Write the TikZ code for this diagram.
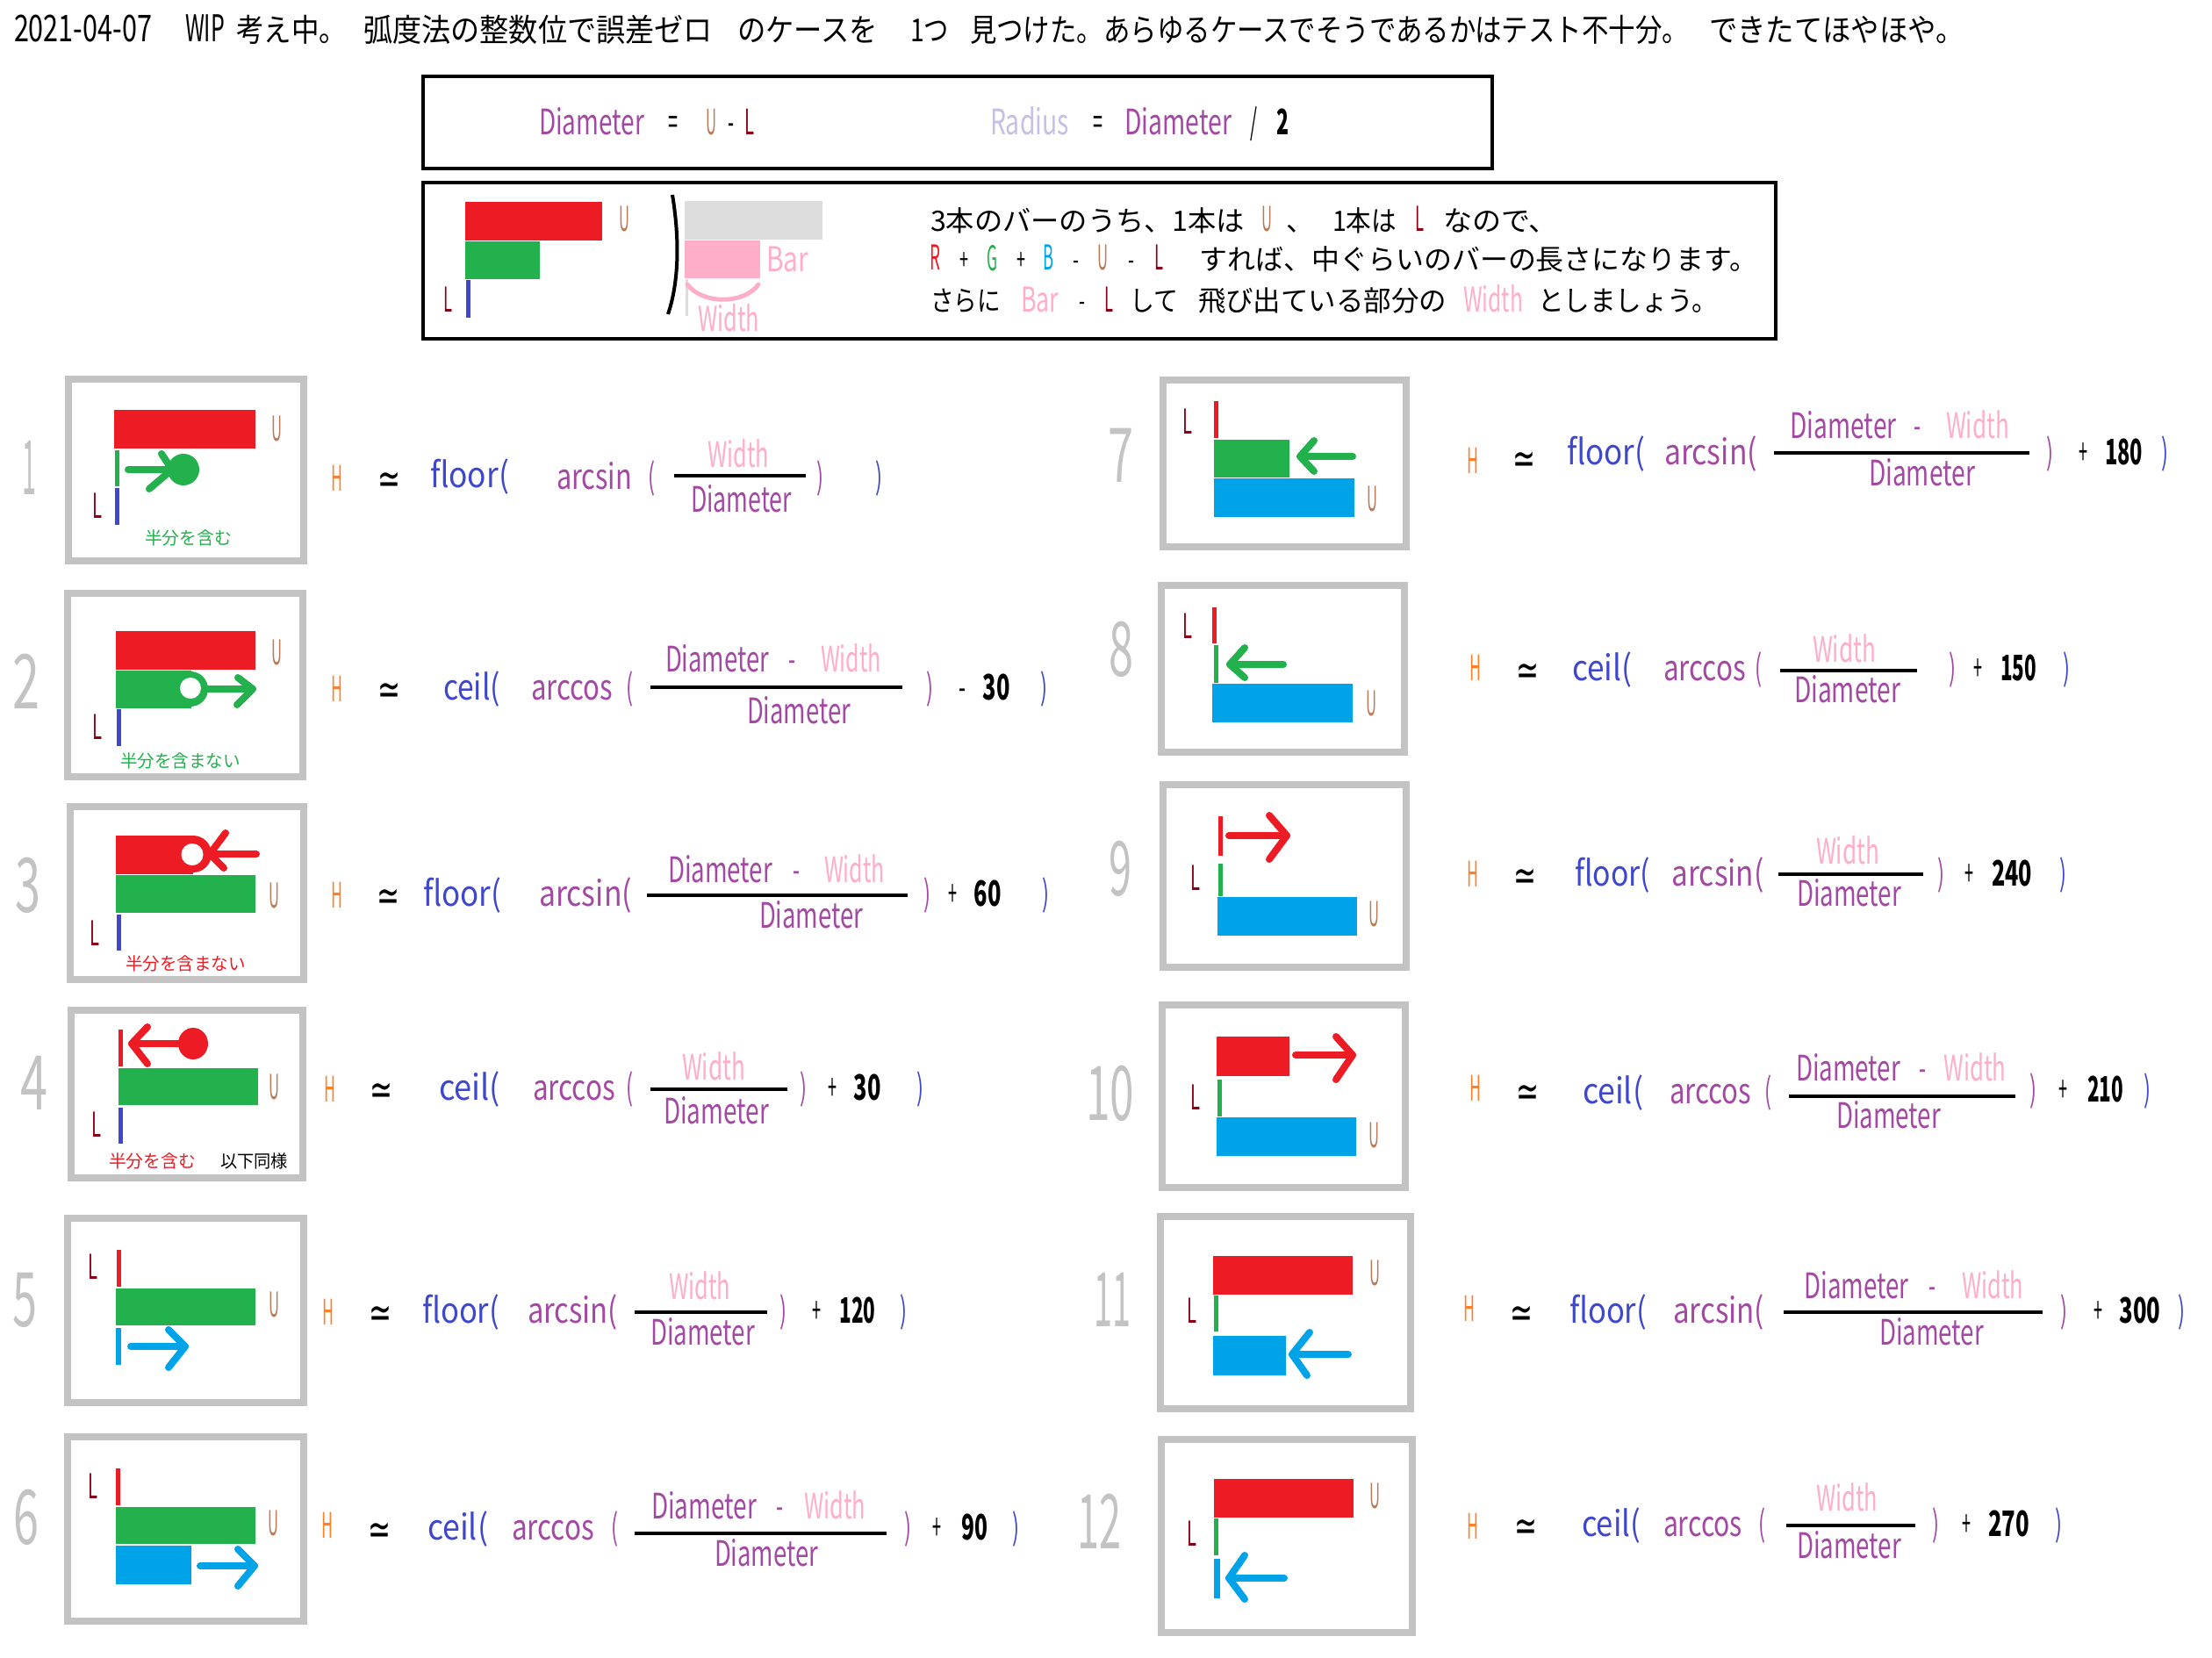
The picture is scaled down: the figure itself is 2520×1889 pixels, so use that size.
\documentclass[tikz,border=0pt]{standalone}
\usepackage{fontspec}
\usepackage{graphicx}
\setmainfont{Noto Sans CJK JP}
\newfontfamily\dvfont{DejaVu Sans}
\definecolor{pRed}{HTML}{ED1C24}
\definecolor{pGreen}{HTML}{22B14C}
\definecolor{pBlue}{HTML}{3F48CC}
\definecolor{pCyan}{HTML}{00A2E8}
\definecolor{pGrey}{HTML}{C3C3C3}
\definecolor{pLight}{HTML}{DCDCDC}
\definecolor{pBrown}{HTML}{B97A57}
\definecolor{pDark}{HTML}{880015}
\definecolor{pOrange}{HTML}{FF7F27}
\definecolor{pPink}{HTML}{FFAEC9}
\definecolor{pPurple}{HTML}{A349A4}
\definecolor{pLav}{HTML}{C8BFE7}
\newcommand\wtx[6][fm]{\node[#1,text=#4] (#2) at (#3) {\resizebox{#5pt}{\height}{#6}};}
\newcommand\simn[2]{\node[inner sep=0pt,font=\fontsize{34}{34}\selectfont,text height=25pt,text depth=0pt,text=black] (#1) at (#2) {\raisebox{-5pt}{\resizebox{26pt}{1.45\height}{\dvfont ≃}}};}
\begin{document}
\begin{tikzpicture}[x=1pt,y=-1pt,
  fm/.style={inner sep=0pt,font=\fontsize{40}{40}\selectfont,text height=25pt,text depth=0pt},
  tb/.style={inner sep=0pt,font=\fontsize{32}{32}\selectfont,text height=23pt,text depth=0pt},
  tl/.style={inner sep=0pt,font=\fontsize{39}{39}\selectfont,text height=24pt,text depth=0pt},
  tt/.style={inner sep=0pt,font=\fontsize{36}{36}\selectfont,text height=26pt,text depth=0pt},
  ttl/.style={inner sep=0pt,font=\fontsize{42}{42}\selectfont,text height=26pt,text depth=0pt},
  ts/.style={inner sep=0pt,font=\fontsize{20}{20}\selectfont,text height=14.4pt,text depth=0pt},
  tn/.style={inner sep=0pt,font=\fontsize{86}{86}\selectfont,text height=54pt,text depth=0pt},
  frame/.style={draw=pGrey,line width=8pt},
  bbox/.style={draw=black,line width=4pt},
  vline/.style={line width=5pt},
  arr/.style={line width=8pt,line cap=round,line join=round},
  fbar/.style={line width=4pt}]
\fill[white] (0,0) rectangle (2520,1889);
\useasboundingbox (0,0) rectangle (2520,1889);

% ---------- top line ----------
\wtx[ttl]{t1}{94.5,35}{black}{157}{2021-04-07}
\wtx[ttl]{t2}{233.5,35}{black}{45}{WIP}
\wtx[tt]{t3}{332,35}{black}{126}{考え中。}
\wtx[tt]{t4}{613,35}{black}{398}{弧度法の整数位で誤差ゼロ}
\wtx[tt]{t5}{920,35}{black}{160}{のケースを}
\wtx[tt]{t6}{1059,35}{black}{44}{1つ}
\wtx[tt]{t7}{1514.5,35}{black}{819}{見つけた。あらゆるケースでそうであるかはテスト不十分。}
\wtx[tt]{t8}{2092.5,35}{black}{291}{できたてほやほや。}

% ---------- box A ----------
\draw[bbox] (482,87) rectangle (1700,192);
\wtx{a1}{674,141}{pPurple}{120}{Diameter}
\wtx{a2}{767,141}{black}{11}{=}
\wtx{a3}{810,141}{pBrown}{12}{U}
\wtx{a4}{833,141}{black}{7}{-}
\wtx{a5}{854,141}{pDark}{11}{L}
\wtx{a6}{1173,141}{pLav}{90}{Radius}
\wtx{a7}{1251,141}{black}{11}{=}
\wtx{a8}{1342,141}{pPurple}{122}{Diameter}
\wtx{a9}{1428,141}{black}{8}{/}
\wtx{a10}{1461,141}{black}{14}{\bfseries 2}

% ---------- box B ----------
\draw[bbox] (482,208) rectangle (2023,386);
\fill[pRed] (530,230) rectangle (686,274);
\fill[pGreen] (530,275) rectangle (615,318);
\draw[pBlue,vline] (533,319) -- (533,362);
\wtx[tl]{bU}{711,252}{pBrown}{12}{U}
\wtx[tl]{bL}{510,343}{pDark}{10}{L}
\draw[line width=4pt] (766,222) .. controls (774,270) and (774,320) .. (761,358);
\fill[pLight] (780,229) rectangle (937,273);
\fill[pPink] (780,274) rectangle (866,317);
\draw[pLight,line width=3pt] (782,318) -- (782,360);
\draw[pPink,line width=5pt,line cap=round] (783,324) .. controls (800,347) and (848,347) .. (864,324);
\wtx[tl]{bBar}{897,297}{pPink}{48}{Bar}
\wtx[tl]{bWid}{830,365}{pPink}{70}{Width}
% line 1
\wtx[tb]{b11}{1239,252}{black}{358}{3本のバーのうち、1本は}
\wtx[tl]{b12}{1443,252}{pBrown}{12}{U}
\node[tb] (b13) at (1481,252) {、};
\wtx[tb]{b14}{1554.5,252}{black}{73}{1本は}
\wtx[tl]{b15}{1617,252}{pDark}{10}{L}
\wtx[tb]{b16}{1709.5,252}{black}{131}{なので、}
% line 2
\wtx[tl]{b21}{1065,296}{pRed}{12}{R}
\wtx[tb]{b22}{1098,296}{black}{10}{+}
\wtx[tl]{b23}{1130,296}{pGreen}{12}{G}
\wtx[tb]{b24}{1163,296}{black}{10}{+}
\wtx[tl]{b25}{1194,296}{pCyan}{12}{B}
\wtx[tb]{b26}{1226,296}{black}{7}{-}
\wtx[tl]{b27}{1256,296}{pBrown}{12}{U}
\wtx[tb]{b28}{1289,296}{black}{7}{-}
\wtx[tl]{b29}{1320,296}{pDark}{10}{L}
\wtx[tb]{b2a}{1684.5,296}{black}{635}{すれば、中ぐらいのバーの長さになります。}
% line 3
\wtx[tb]{b31}{1100,343}{black}{80}{さらに}
\wtx[tl]{b32}{1184.5,343}{pPink}{43}{Bar}
\wtx[tb]{b33}{1233,343}{black}{7}{-}
\wtx[tl]{b34}{1263,343}{pDark}{10}{L}
\wtx[tb]{b35}{1314.5,343}{black}{55}{して}
\wtx[tb]{b36}{1506.5,343}{black}{283}{飛び出ている部分の}
\wtx[tl]{b37}{1701,343}{pPink}{68}{Width}
\wtx[tb]{b38}{1854.5,343}{black}{205}{としましょう。}

% ---------- big grey numbers ----------
\wtx[tn]{n1}{33,536}{pGrey}{16}{1}
\wtx[tn]{n2}{30,780}{pGrey}{31}{2}
\wtx[tn]{n3}{32,1012}{pGrey}{29}{3}
\wtx[tn]{n4}{39,1237}{pGrey}{31}{4}
\wtx[tn]{n5}{28,1484}{pGrey}{28}{5}
\wtx[tn]{n6}{30,1732}{pGrey}{29}{6}
\wtx[tn]{n7}{1277,522}{pGrey}{29}{7}
\wtx[tn]{n8}{1277,743}{pGrey}{28}{8}
\wtx[tn]{n9}{1276,993}{pGrey}{26}{9}
\wtx[tn]{n10}{1264.5,1249}{pGrey}{55}{10}
\wtx[tn]{n11}{1267,1484}{pGrey}{42}{11}
\wtx[tn]{n12}{1252,1737}{pGrey}{50}{12}

% ---------- panel frames ----------
\draw[frame] (78,432) rectangle (346,639);
\draw[frame] (77,676) rectangle (345,885);
\draw[frame] (80,919) rectangle (346,1116);
\draw[frame] (81,1151) rectangle (345,1342);
\draw[frame] (77,1388) rectangle (346,1598);
\draw[frame] (77,1637) rectangle (346,1847);
\draw[frame] (1325,433) rectangle (1602,623);
\draw[frame] (1323,667) rectangle (1600,857);
\draw[frame] (1325,894) rectangle (1602,1102);
\draw[frame] (1324,1145) rectangle (1601,1353);
\draw[frame] (1322,1386) rectangle (1607,1605);
\draw[frame] (1323,1640) rectangle (1609,1860);

% ---------- panel 1 ----------
\fill[pRed] (130,467) rectangle (291,511);
\draw[pGreen,vline] (133,513) -- (133,554);
\draw[pBlue,vline] (133,556) -- (133,598);
\draw[pGreen,arr] (146,535) -- (200,535);
\draw[pGreen,arr] (184,517) -- (196,535) -- (170,557);
\fill[pGreen] (209,535) circle[radius=18pt];
\wtx[tl]{p1U}{315,490}{pBrown}{12}{U}
\wtx[tl]{p1L}{111,578}{pDark}{11}{L}
\wtx[ts]{p1t}{214.5,613}{pGreen}{99}{半分を含む}

% ---------- panel 2 ----------
\fill[pRed] (132,719) rectangle (291,763);
\fill[pGreen] (132,764) rectangle (218,807);
\fill[pGreen] (217,785) circle[radius=20pt];
\fill[white] (217,784) circle[radius=12pt];
\draw[pGreen,arr] (236,785) -- (288,785);
\draw[pGreen,arr] (271,772) -- (288,785) -- (270,803);
\draw[pBlue,vline] (135,808) -- (135,850);
\wtx[tl]{p2U}{315,745}{pBrown}{12}{U}
\wtx[tl]{p2L}{111,830}{pDark}{11}{L}
\wtx[ts]{p2t}{205.5,867}{pGreen}{137}{半分を含まない}

% ---------- panel 3 ----------
\fill[pRed] (132,952) rectangle (220,996);
\fill[pRed] (220,973) circle[radius=21pt];
\fill[white] (219,973.5) circle[radius=12.5pt];
\draw[pRed,arr] (257,949) -- (239,973) -- (255,989);
\draw[pRed,arr] (239,973) -- (292,973);
\fill[pGreen] (132,997) rectangle (291,1040);
\draw[pBlue,vline] (135,1042) -- (135,1083);
\wtx[tl]{p3U}{312,1022}{pBrown}{12}{U}
\wtx[tl]{p3L}{108,1065}{pDark}{11}{L}
\wtx[ts]{p3t}{211.5,1098}{pRed}{137}{半分を含まない}

% ---------- panel 4 ----------
\draw[pRed,vline] (137,1173) -- (137,1215);
\draw[pRed,arr] (168,1170) -- (150,1189) -- (168,1212);
\draw[pRed,arr] (150,1189) -- (210,1189);
\fill[pRed] (220,1189) ellipse[x radius=17pt,y radius=18pt];
\fill[pGreen] (135,1217) rectangle (294,1259);
\draw[pBlue,vline] (137,1262) -- (137,1303);
\wtx[tl]{p4U}{312,1240}{pBrown}{12}{U}
\wtx[tl]{p4L}{110,1283}{pDark}{11}{L}
\wtx[ts]{p4t}{173.5,1323}{pRed}{99}{半分を含む}
\wtx[ts]{p4s}{289.5,1323}{black}{77}{以下同様}

% ---------- panel 5 ----------
\draw[pRed,vline] (135,1424) -- (135,1466);
\fill[pGreen] (132,1468) rectangle (291,1510);
\draw[pCyan,line width=6pt] (135,1513) -- (135,1555);
\draw[pCyan,arr] (149,1534) -- (211,1534);
\draw[pCyan,arr] (192,1515) -- (211,1534) -- (192,1558);
\wtx[tl]{p5U}{312,1488}{pBrown}{12}{U}
\wtx[tl]{p5L}{106,1445}{pDark}{11}{L}

% ---------- panel 6 ----------
\draw[pRed,vline] (134,1673) -- (134,1715);
\fill[pGreen] (132,1717) rectangle (291,1759);
\fill[pCyan] (132,1761) rectangle (218,1805);
\draw[pCyan,arr] (228,1784) -- (290,1784);
\draw[pCyan,arr] (271,1765) -- (290,1784) -- (271,1807);
\wtx[tl]{p6U}{311,1737}{pBrown}{12}{U}
\wtx[tl]{p6L}{106,1695}{pDark}{11}{L}

% ---------- panel 7 ----------
\draw[pRed,vline] (1385,457) -- (1385,499);
\fill[pGreen] (1383,501) rectangle (1469,544);
\draw[pGreen,arr] (1497,502) -- (1481,520) -- (1497,537);
\draw[pGreen,arr] (1481,520) -- (1541,520);
\fill[pCyan] (1383,545) rectangle (1543,589);
\wtx[tl]{p7L}{1353,482}{pDark}{11}{L}
\wtx[tl]{p7U}{1563,570}{pBrown}{12}{U}

% ---------- panel 8 ----------
\draw[pRed,vline] (1383,692) -- (1383,733);
\draw[pGreen,vline] (1385,735) -- (1385,778);
\draw[pGreen,arr] (1418,738) -- (1401,757) -- (1418,772);
\draw[pGreen,arr] (1401,757) -- (1462,757);
\fill[pCyan] (1381,779) rectangle (1541,823);
\wtx[tl]{p8L}{1353,715}{pDark}{11}{L}
\wtx[tl]{p8U}{1562,803}{pBrown}{12}{U}

% ---------- panel 9 ----------
\draw[pRed,vline] (1390,930) -- (1390,975);
\draw[pRed,arr] (1400,952) -- (1466,952);
\draw[pRed,arr] (1446,929) -- (1466,952) -- (1446,979);
\draw[pGreen,vline] (1390,984) -- (1390,1021);
\fill[pCyan] (1387,1022) rectangle (1546,1066);
\wtx[tl]{p9L}{1362,1002}{pDark}{11}{L}
\wtx[tl]{p9U}{1565,1043}{pBrown}{12}{U}

% ---------- panel 10 ----------
\fill[pRed] (1386,1181) rectangle (1469,1226);
\draw[pRed,arr] (1476,1202) -- (1541,1202);
\draw[pRed,arr] (1522,1181) -- (1541,1202) -- (1522,1230);
\draw[pGreen,vline] (1389,1230) -- (1389,1272);
\fill[pCyan] (1386,1273) rectangle (1545,1317);
\wtx[tl]{p10L}{1362,1252}{pDark}{11}{L}
\wtx[tl]{p10U}{1565,1295}{pBrown}{12}{U}

% ---------- panel 11 ----------
\fill[pRed] (1382,1431) rectangle (1541,1475);
\draw[pGreen,vline] (1385,1476) -- (1385,1517);
\fill[pCyan] (1382,1522) rectangle (1465,1567);
\draw[pCyan,arr] (1492,1518) -- (1472,1543) -- (1489,1567);
\draw[pCyan,arr] (1472,1543) -- (1536,1543);
\wtx[tl]{p11U}{1566,1452}{pBrown}{12}{U}
\wtx[tl]{p11L}{1358,1495}{pDark}{11}{L}

% ---------- panel 12 ----------
\fill[pRed] (1383,1685) rectangle (1542,1729);
\draw[pGreen,vline] (1385,1730) -- (1385,1772);
\draw[pCyan,line width=7pt] (1386,1776) -- (1386,1821);
\draw[pCyan,arr] (1418,1772) -- (1400,1798) -- (1418,1822);
\draw[pCyan,arr] (1400,1798) -- (1463,1798);
\wtx[tl]{p12U}{1566,1706}{pBrown}{12}{U}
\wtx[tl]{p12L}{1358,1749}{pDark}{11}{L}

% ---------- formula 1 ----------
\wtx{f1H}{384,547}{pOrange}{13}{H}
\simn{f1e}{443,545}
\wtx{f1f}{535,543}{pBlue}{90}{floor(}
\wtx{f1t}{677,545}{pPurple}{86}{arcsin}
\wtx{f1p}{742,545}{pPurple}{8}{(}
\draw[fbar] (768,542) -- (918,542);
\wtx{f1n}{841,520}{pPink}{70}{Width}
\wtx{f1d}{844.5,571}{pPurple}{115}{Diameter}
\wtx{f1q}{934,545}{pPurple}{8}{)}
\wtx{f1r}{1001,545}{pBlue}{8}{)}

% ---------- formula 2 ----------
\wtx{f2H}{384,787}{pOrange}{13}{H}
\simn{f2e}{443,785}
\wtx{f2f}{537.5,785}{pBlue}{65}{ceil(}
\wtx{f2t}{651.5,785}{pPurple}{93}{arccos}
\wtx{f2p}{717,785}{pPurple}{8}{(}
\draw[fbar] (741,783) -- (1028,783);
\wtx{f2n}{817,753}{pPurple}{118}{Diameter}
\wtx{f2m}{902,753}{pPurple}{8}{-}
\wtx{f2w}{969.5,753}{pPink}{69}{Width}
\wtx{f2d}{910,812}{pPurple}{118}{Diameter}
\wtx{f2q}{1059,785}{pPurple}{8}{)}
\wtx{f2o}{1096,785}{black}{8}{-}
\wtx{f2k}{1135,785}{black}{31}{\bfseries 30}
\wtx{f2r}{1189,785}{pBlue}{8}{)}

% ---------- formula 3 ----------
\wtx{f3H}{384,1022}{pOrange}{13}{H}
\simn{f3e}{442,1020}
\wtx{f3f}{526.5,1020}{pBlue}{89}{floor(}
\wtx{f3t}{667,1020}{pPurple}{106}{arcsin(}
\draw[fbar] (737,1020) -- (1034,1020);
\wtx{f3n}{820.5,993}{pPurple}{119}{Diameter}
\wtx{f3m}{907,993}{pPurple}{8}{-}
\wtx{f3w}{973.5,993}{pPink}{69}{Width}
\wtx{f3d}{924,1045}{pPurple}{118}{Diameter}
\wtx{f3q}{1056,1020}{pPurple}{8}{)}
\wtx{f3o}{1085,1020}{black}{10}{+}
\wtx{f3k}{1125,1020}{black}{31}{\bfseries 60}
\wtx{f3r}{1191,1020}{pBlue}{8}{)}

% ---------- formula 4 ----------
\wtx{f4H}{376,1243}{pOrange}{13}{H}
\simn{f4e}{434,1241}
\wtx{f4f}{535,1241}{pBlue}{70}{ceil(}
\wtx{f4t}{654,1241}{pPurple}{94}{arccos}
\wtx{f4p}{717,1241}{pPurple}{8}{(}
\draw[fbar] (741,1241) -- (897,1241);
\wtx{f4n}{813,1218}{pPink}{72}{Width}
\wtx{f4d}{816,1268}{pPurple}{120}{Diameter}
\wtx{f4q}{915,1241}{pPurple}{8}{)}
\wtx{f4o}{948,1241}{black}{10}{+}
\wtx{f4k}{988,1241}{black}{31}{\bfseries 30}
\wtx{f4r}{1048,1241}{pBlue}{8}{)}

% ---------- formula 5 ----------
\wtx{f5H}{374,1497}{pOrange}{13}{H}
\simn{f5e}{433,1495}
\wtx{f5f}{525,1495}{pBlue}{88}{floor(}
\wtx{f5t}{652.5,1495}{pPurple}{103}{arcsin(}
\draw[fbar] (723,1495) -- (874,1495);
\wtx{f5n}{797,1468}{pPink}{70}{Width}
\wtx{f5d}{800.5,1520}{pPurple}{119}{Diameter}
\wtx{f5q}{892,1495}{pPurple}{8}{)}
\wtx{f5o}{930.5,1495}{black}{10}{+}
\wtx{f5k}{977,1495}{black}{41}{\bfseries 120}
\wtx{f5r}{1029,1495}{pBlue}{8}{)}

% ---------- formula 6 ----------
\wtx{f6H}{372.5,1740}{pOrange}{13}{H}
\simn{f6e}{432,1742}
\wtx{f6f}{521.5,1742}{pBlue}{69}{ceil(}
\wtx{f6t}{630,1742}{pPurple}{94}{arccos}
\wtx{f6p}{700,1742}{pPurple}{8}{(}
\draw[fbar] (723,1747) -- (1010,1747);
\wtx{f6n}{802,1718}{pPurple}{120}{Diameter}
\wtx{f6m}{888,1718}{pPurple}{8}{-}
\wtx{f6w}{951,1718}{pPink}{70}{Width}
\wtx{f6d}{873,1772}{pPurple}{118}{Diameter}
\wtx{f6q}{1034.5,1742}{pPurple}{8}{)}
\wtx{f6o}{1067,1742}{black}{10}{+}
\wtx{f6k}{1110,1742}{black}{30}{\bfseries 90}
\wtx{f6r}{1157,1742}{pBlue}{8}{)}

% ---------- formula 7 ----------
\wtx{f7H}{1678,527}{pOrange}{13}{H}
\simn{f7e}{1736,522}
\wtx{f7f}{1829.5,517}{pBlue}{89}{floor(}
\wtx{f7t}{1949,517}{pPurple}{106}{arcsin(}
\draw[fbar] (2021,516) -- (2312,516);
\wtx{f7n}{2100,487}{pPurple}{121}{Diameter}
\wtx{f7m}{2184,487}{pPurple}{8}{-}
\wtx{f7w}{2253,487}{pPink}{72}{Width}
\wtx{f7d}{2189.5,541}{pPurple}{121}{Diameter}
\wtx{f7q}{2335,517}{pPurple}{8}{)}
\wtx{f7o}{2373.5,517}{black}{10}{+}
\wtx{f7k}{2419.5,517}{black}{43}{\bfseries 180}
\wtx{f7r}{2466.5,517}{pBlue}{8}{)}

% ---------- formula 8 ----------
\wtx{f8H}{1681,763}{pOrange}{13}{H}
\simn{f8e}{1740,763}
\wtx{f8f}{1825,763}{pBlue}{68}{ceil(}
\wtx{f8t}{1942,763}{pPurple}{94}{arccos}
\wtx{f8p}{2003,763}{pPurple}{8}{(}
\draw[fbar] (2028,764) -- (2184,764);
\wtx{f8n}{2101,742}{pPink}{72}{Width}
\wtx{f8d}{2104.5,788}{pPurple}{121}{Diameter}
\wtx{f8q}{2224,763}{pPurple}{8}{)}
\wtx{f8o}{2253,763}{black}{10}{+}
\wtx{f8k}{2299.5,763}{black}{41}{\bfseries 150}
\wtx{f8r}{2354,763}{pBlue}{8}{)}

% ---------- formula 9 ----------
\wtx{f9H}{1678,998}{pOrange}{13}{H}
\simn{f9e}{1737.6,997}
\wtx{f9f}{1837,997}{pBlue}{86}{floor(}
\wtx{f9t}{1957,997}{pPurple}{105}{arcsin(}
\draw[fbar] (2026,996) -- (2191,996);
\wtx{f9n}{2105,972}{pPink}{72}{Width}
\wtx{f9d}{2106.5,1020}{pPurple}{119}{Diameter}
\wtx{f9q}{2211,997}{pPurple}{8}{)}
\wtx{f9o}{2243.6,997}{black}{10}{+}
\wtx{f9k}{2292,997}{black}{46}{\bfseries 240}
\wtx{f9r}{2350.5,997}{pBlue}{8}{)}

% ---------- formula 10 ----------
\wtx{f10H}{1681,1242}{pOrange}{13}{H}
\simn{f10e}{1740,1243}
\wtx{f10f}{1837.5,1245}{pBlue}{69}{ceil(}
\wtx{f10t}{1948.5,1245}{pPurple}{93}{arccos}
\wtx{f10p}{2014,1245}{pPurple}{8}{(}
\draw[fbar] (2038,1249) -- (2296,1249);
\wtx{f10n}{2105.5,1219}{pPurple}{119}{Diameter}
\wtx{f10m}{2190,1219}{pPurple}{8}{-}
\wtx{f10w}{2250,1219}{pPink}{71}{Width}
\wtx{f10d}{2151.5,1273}{pPurple}{119}{Diameter}
\wtx{f10q}{2316,1243}{pPurple}{8}{)}
\wtx{f10o}{2350.5,1243}{black}{10}{+}
\wtx{f10k}{2398.5,1243}{black}{41}{\bfseries 210}
\wtx{f10r}{2446,1243}{pBlue}{8}{)}

% ---------- formula 11 ----------
\wtx{f11H}{1674,1493}{pOrange}{13}{H}
\simn{f11e}{1733.5,1495}
\wtx{f11f}{1832,1495}{pBlue}{88}{floor(}
\wtx{f11t}{1958,1495}{pPurple}{104}{arcsin(}
\draw[fbar] (2032,1495) -- (2327,1495);
\wtx{f11n}{2115,1467}{pPurple}{119}{Diameter}
\wtx{f11m}{2201,1467}{pPurple}{8}{-}
\wtx{f11w}{2270,1467}{pPink}{70}{Width}
\wtx{f11d}{2200.5,1520}{pPurple}{119}{Diameter}
\wtx{f11q}{2351,1495}{pPurple}{8}{)}
\wtx{f11o}{2390,1495}{black}{10}{+}
\wtx{f11k}{2438,1495}{black}{47}{\bfseries 300}
\wtx{f11r}{2485.5,1495}{pBlue}{8}{)}

% ---------- formula 12 ----------
\wtx{f12H}{1678,1741}{pOrange}{13}{H}
\simn{f12e}{1738,1738}
\wtx{f12f}{1835.5,1738}{pBlue}{67}{ceil(}
\wtx{f12t}{1940,1738}{pPurple}{90}{arccos}
\wtx{f12p}{2007.5,1738}{pPurple}{8}{(}
\draw[fbar] (2035,1738) -- (2182,1738);
\wtx{f12n}{2104,1709}{pPink}{70}{Width}
\wtx{f12d}{2106.5,1763}{pPurple}{119}{Diameter}
\wtx{f12q}{2205.7,1738}{pPurple}{8}{)}
\wtx{f12o}{2240,1738}{black}{10}{+}
\wtx{f12k}{2288.5,1738}{black}{47}{\bfseries 270}
\wtx{f12r}{2345,1738}{pBlue}{8}{)}
\end{tikzpicture}
\end{document}
